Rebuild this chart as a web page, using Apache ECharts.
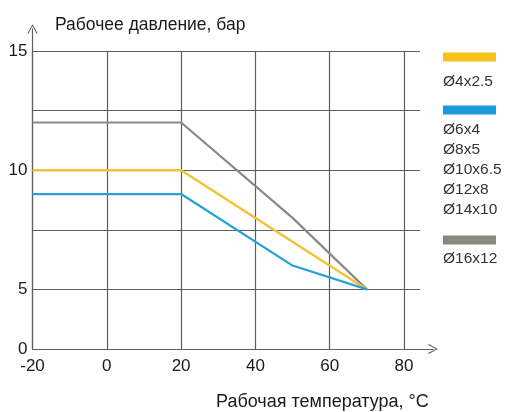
<!DOCTYPE html>
<html>
<head>
<meta charset="utf-8">
<script src="https://cdn.jsdelivr.net/npm/echarts@6/dist/echarts.min.js"></script>
<style>
html,body{margin:0;padding:0;background:#fff;}
#c{width:506px;height:412px;}
</style>
</head>
<body>
<div id="c"></div>
<script>
// ---- data ----
var seriesNames = ['Ø4x2.5', 'Ø6x4 … Ø14x10', 'Ø16x12'];
var yellowData = [[-20, 10], [20, 10], [70, 5]];
var blueData = [[-20, 9], [20, 9], [50, 6], [70, 5]];
var grayData = [[-20, 12], [20, 12], [50, 8], [70, 5]];
var xTickLabels = ['-20', '0', '20', '40', '60', '80'];
var yTickLabels = {'2.5': '0', '5': '5', '10': '10', '15': '15'}; // axis is broken below 5
var legendGroups = [
  {color: '#f6c21c', labels: ['Ø4x2.5']},
  {color: '#1b9bdb', labels: ['Ø6x4', 'Ø8x5', 'Ø10x6.5', 'Ø12x8', 'Ø14x10']},
  {color: '#8b877b', labels: ['Ø16x12']}
];
var yTitle = 'Рабочее давление, бар';
var xTitle = 'Рабочая температура, °C';

var FONT = 'Liberation Sans';
var arrowPath = 'path://M5,0 L10,9 L9.1,9.7 L5,1.9 L0.9,9.7 L0,9 Z';

// legend graphic
var legendEls = [];
var legendTops = [57, 110, 240];
var textTops = [[83], [131, 151, 171, 191, 211], [260]];
legendGroups.forEach(function (g, gi) {
  legendEls.push({
    type: 'rect', left: 443, top: legendTops[gi] - 4.5,
    shape: {width: 53, height: 9}, style: {fill: g.color}
  });
  g.labels.forEach(function (t, ti) {
    legendEls.push({
      type: 'text', left: 443, top: textTops[gi][ti] - 9,
      style: {text: t, fill: '#333', font: '15.5px "' + FONT + '"'}
    });
  });
});

var chart = echarts.init(document.getElementById('c'), null, {renderer: 'canvas'});
chart.setOption({
  animation: false,
  backgroundColor: '#fff',
  textStyle: {fontFamily: FONT},
  title: [
    {text: yTitle, left: 55, top: 16, textStyle: {fontSize: 17.5, fontWeight: 'normal', color: '#1a1a1a', fontFamily: FONT}, padding: 0},
    {text: xTitle, left: 216, top: 393, textStyle: {fontSize: 18, fontWeight: 'normal', color: '#1a1a1a', fontFamily: FONT}, padding: 0}
  ],
  grid: [
    {left: 32.5, top: 51, width: 387.5, height: 298, containLabel: false},
    {left: 32.5, top: 29, width: 400.5, height: 320, containLabel: false}
  ],
  xAxis: [
    {
      type: 'value', gridIndex: 0, min: -20, max: 84.3, interval: 20,
      axisLine: {show: false, onZero: false},
      axisTick: {show: false},
      splitLine: {show: true, lineStyle: {color: ['#5e5e5e', '#5e5e5e', '#5e5e5e', '#5e5e5e', '#5e5e5e', '#5e5e5e', 'rgba(0,0,0,0)'], width: 1.2}},
      axisLabel: {
        margin: 9, fontSize: 17, color: '#1a1a1a', fontFamily: FONT, showMaxLabel: false,
        formatter: function (v) {
          var i = Math.round((v + 20) / 20);
          return (Math.abs((v + 20) % 20) < 1e-6 && xTickLabels[i] !== undefined) ? xTickLabels[i] : '';
        }
      }
    },
    {
      type: 'value', gridIndex: 1, min: 0, max: 1,
      axisLine: {show: true, onZero: false, symbol: ['none', arrowPath], symbolSize: [10, 10], lineStyle: {color: '#5e5e5e', width: 1.2}},
      axisTick: {show: false}, axisLabel: {show: false}, splitLine: {show: false}
    }
  ],
  yAxis: [
    {
      type: 'value', gridIndex: 0, min: 2.5, max: 15, interval: 2.5,
      axisLine: {show: false, onZero: false},
      axisTick: {show: false},
      splitLine: {show: true, lineStyle: {color: '#5e5e5e', width: 1.2}},
      axisLabel: {
        margin: 5, fontSize: 17, color: '#1a1a1a', fontFamily: FONT,
        formatter: function (v) { var k = String(v); return yTickLabels[k] !== undefined ? yTickLabels[k] : ''; }
      }
    },
    {
      type: 'value', gridIndex: 1, min: 0, max: 1,
      axisLine: {show: true, onZero: false, symbol: ['none', arrowPath], symbolSize: [10, 10], lineStyle: {color: '#5e5e5e', width: 1.2}},
      axisTick: {show: false}, axisLabel: {show: false}, splitLine: {show: false}
    }
  ],
  series: [
    {name: seriesNames[2], type: 'line', xAxisIndex: 0, yAxisIndex: 0, data: grayData, showSymbol: false, symbol: 'none',
      lineStyle: {color: '#8a8984', width: 2.2}, z: 3},
    {name: seriesNames[0], type: 'line', xAxisIndex: 0, yAxisIndex: 0, data: yellowData, showSymbol: false, symbol: 'none',
      lineStyle: {color: '#f2c233', width: 2.4}, z: 4},
    {name: seriesNames[1], type: 'line', xAxisIndex: 0, yAxisIndex: 0, data: blueData, showSymbol: false, symbol: 'none',
      lineStyle: {color: '#27a0d8', width: 2.2}, z: 5}
  ],
  graphic: legendEls
});
</script>
</body>
</html>
